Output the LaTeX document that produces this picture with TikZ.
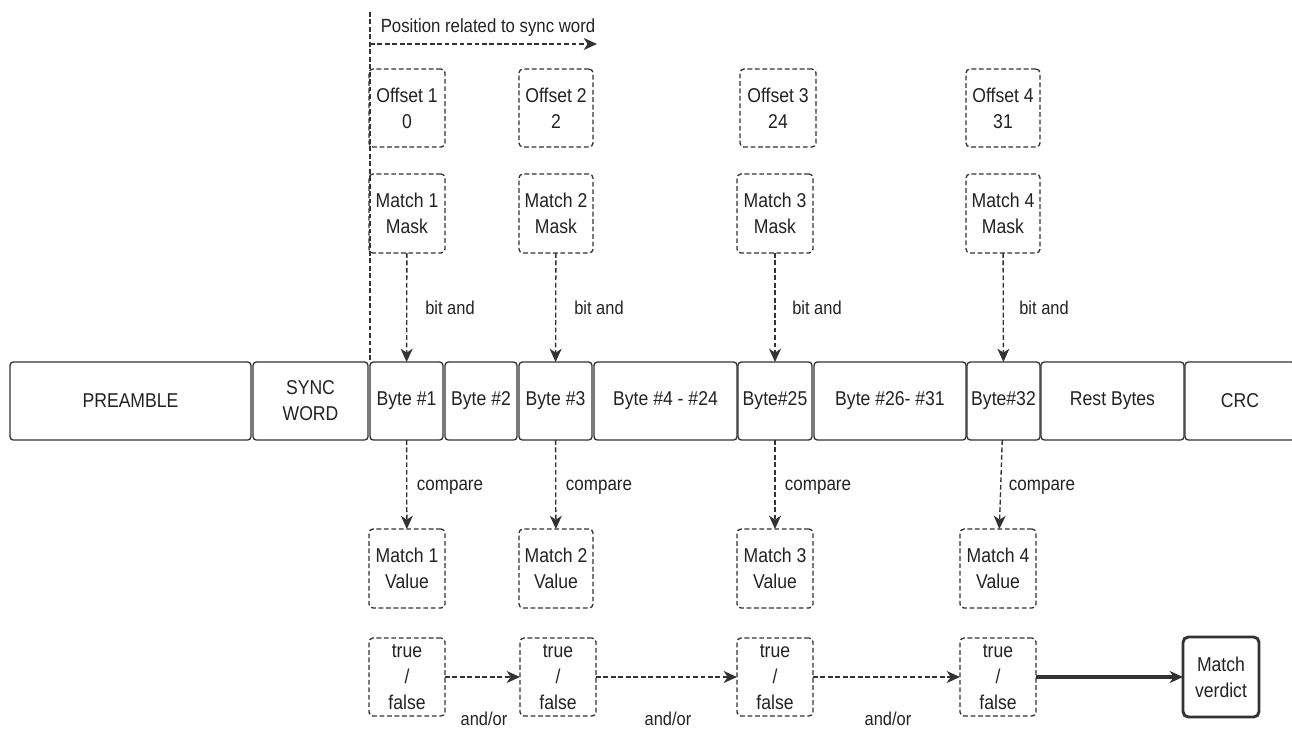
\documentclass[tikz,border=0pt]{standalone}
\usepackage{fontspec}
\setmainfont{Liberation Sans}[FakeStretch=0.88]
\usetikzlibrary{arrows.meta}
\definecolor{ln}{HTML}{333333}
\definecolor{tx}{HTML}{222222}
\begin{document}
\begin{tikzpicture}[x=0.75pt,y=-0.75pt,
  sz/.style 2 args={minimum width=#1*0.75pt, minimum height=#2*0.75pt},
  boxfont/.style={font={\fontsize{15}{19.5}\selectfont}, text=tx, align=center},
  dbox/.style={draw=ln, line width=1pt, dash pattern=on 3.6pt off 2pt, rounded corners=3pt, inner sep=0pt, outer sep=0pt, boxfont},
  sbox/.style={draw=ln, line width=1pt, rounded corners=2.5pt, inner sep=0pt, outer sep=0pt, boxfont},
  vbox/.style={draw=ln, line width=2.2pt, rounded corners=4pt, inner sep=0pt, outer sep=0pt, boxfont},
  lbl/.style={font={\fontsize{14}{16}\selectfont}, text=tx, inner sep=0pt},
  darr/.style={draw=ln, line width=1pt, dash pattern=on 3.6pt off 2pt, -{Stealth[length=10pt,width=9pt,inset=3pt]}},
  dline/.style={draw=ln, line width=0.8pt, dash pattern=on 3.6pt off 2pt},
  tarr/.style={draw=ln, line width=2.5pt, -{Stealth[length=10pt,width=9pt,inset=3pt]}}
]
\useasboundingbox (0,0) rectangle (1292,729);

% offsets
\node[dbox, sz={76}{78}] (o1) at (407,108) {Offset 1\\0};
\node[dbox, sz={74}{78}] (o2) at (556,108) {Offset 2\\2};
\node[dbox, sz={76}{78}] (o3) at (778,108) {Offset 3\\24};
\node[dbox, sz={74}{78}] (o4) at (1003,108) {Offset 4\\31};

% masks
\node[dbox, sz={76}{79}] (m1) at (407,213.5) {Match 1\\Mask};
\node[dbox, sz={74}{79}] (m2) at (556,213.5) {Match 2\\Mask};
\node[dbox, sz={76}{79}] (m3) at (775,213.5) {Match 3\\Mask};
\node[dbox, sz={74}{79}] (m4) at (1003,213.5) {Match 4\\Mask};

% byte row
\node[sbox, sz={241}{78}] (pre) at (130.5,401) {PREAMBLE};
\node[sbox, sz={115}{78}] (sync) at (310.5,401) {SYNC\\WORD};
\node[sbox, sz={73}{78}] (b1) at (406.5,401) {Byte \#1};
\node[sbox, sz={72}{78}] (b2) at (481,401) {Byte \#2};
\node[sbox, sz={73}{78}] (b3) at (555.5,401) {Byte \#3};
\node[sbox, sz={143}{78}] (b4) at (665.5,401) {Byte \#4 - \#24};
\node[sbox, sz={74}{78}] (b25) at (775,401) {Byte\#25};
\node[sbox, sz={152}{78}] (b26) at (890,401) {Byte \#26- \#31};
\node[sbox, sz={73}{78}] (b32) at (1003.5,401) {Byte\#32};
\node[sbox, sz={143}{78}] (rest) at (1112.5,401) {Rest Bytes};
\node[sbox, sz={110}{78}] (crc) at (1240,401) {CRC};

% values
\node[dbox, sz={76}{79}] (v1) at (407,568.5) {Match 1\\Value};
\node[dbox, sz={74}{79}] (v2) at (556,568.5) {Match 2\\Value};
\node[dbox, sz={76}{79}] (v3) at (775,568.5) {Match 3\\Value};
\node[dbox, sz={76}{79}] (v4) at (998,568.5) {Match 4\\Value};

% true/false
\node[dbox, sz={76}{78}] (t1) at (407,677) {true\\/\\false};
\node[dbox, sz={76}{78}] (t2) at (558,677) {true\\/\\false};
\node[dbox, sz={76}{78}] (t3) at (775,677) {true\\/\\false};
\node[dbox, sz={76}{78}] (t4) at (998,677) {true\\/\\false};

% verdict
\node[vbox, sz={76}{80}] (verdict) at (1221,677) {Match\\verdict};

% position indicator
\coordinate (vtop) at (370,12);
\draw[dline] (vtop) -- (b1.north west);
\coordinate (pa) at (370,44);
\coordinate (pb) at (597,44);
\draw[darr] (pa) -- (pb);
\node[lbl, font={\fontsize{14.3}{16}\selectfont}] (pos) at (488,28) {Position related to sync word};

% bit and
\draw[darr] (m1) -- (b1);
\draw[darr] (m2) -- (b3);
\draw[darr] (m3) -- (b25);
\draw[darr] (m4) -- (b32);
\node[lbl] (ba1) at (450,308) {bit and};
\node[lbl] (ba2) at (599,308) {bit and};
\node[lbl] (ba3) at (817,308) {bit and};
\node[lbl] (ba4) at (1044,308) {bit and};

% compare
\draw[darr] (b1) -- (v1);
\draw[darr] (b3) -- (v2);
\draw[darr] (b25) -- (v3);
\draw[darr] (b32) -- (v4);
\node[lbl, font={\fontsize{14.5}{16}\selectfont}] (c1) at (450,487) {compare};
\node[lbl, font={\fontsize{14.5}{16}\selectfont}] (c2) at (599,487) {compare};
\node[lbl, font={\fontsize{14.5}{16}\selectfont}] (c3) at (818,487) {compare};
\node[lbl, font={\fontsize{14.5}{16}\selectfont}] (c4) at (1042,487) {compare};

% and/or chain
\draw[darr] (t1) -- (t2);
\draw[darr] (t2) -- (t3);
\draw[darr] (t3) -- (t4);
\draw[tarr] (t4) -- (verdict);
\node[lbl, anchor=base] (ao1) at (484,725) {and/or};
\node[lbl, anchor=base] (ao2) at (668,725) {and/or};
\node[lbl, anchor=base] (ao3) at (888,725) {and/or};
\end{tikzpicture}
\end{document}
